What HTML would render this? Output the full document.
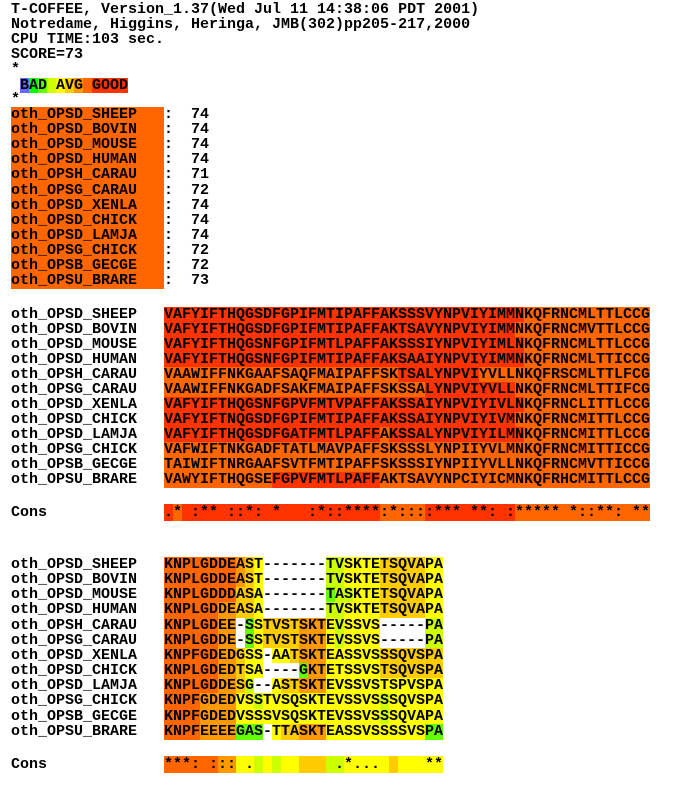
<!DOCTYPE html>
<html><head><meta charset="utf-8">
<style>
body{margin:0;background:#fff;width:673px;height:787px;overflow:hidden;position:relative;font-family:"Liberation Mono",monospace;font-weight:bold;font-size:15px;color:#000}
.ln{position:absolute;left:11px;height:16px;line-height:15px;white-space:pre}
.c{display:inline-block;width:9px;height:100%;text-align:center;vertical-align:top}
</style></head><body>
<div class="ln" style="top:2px">T-COFFEE, Version_1.37(Wed Jul 11 14:38:06 PDT 2001)</div>
<div class="ln" style="top:17px">Notredame, Higgins, Heringa, JMB(302)pp205-217,2000</div>
<div class="ln" style="top:32px">CPU TIME:103 sec.</div>
<div class="ln" style="top:47px">SCORE=73</div>
<div class="ln" style="top:62px">*</div>
<div class="ln" id="legend" style="top:78px;height:15px"></div>
<div class="ln" style="top:92px">*</div>
<div id="root"></div>
<script>
const COL={'0':'#6666ff','1':'#00ff00','2':'#66ff00','3':'#ccff00','4':'#ffff00','5':'#ffcc00','6':'#ff9900','7':'#ff6600','8':'#ff3300','-':'#ffffff',' ':'#ffffff'};
const names=['oth_OPSD_SHEEP','oth_OPSD_BOVIN','oth_OPSD_MOUSE','oth_OPSD_HUMAN','oth_OPSH_CARAU','oth_OPSG_CARAU','oth_OPSD_XENLA','oth_OPSD_CHICK','oth_OPSD_LAMJA','oth_OPSG_CHICK','oth_OPSB_GECGE','oth_OPSU_BRARE'];
const scores=[74,74,74,74,71,72,74,74,74,72,72,73];
const seq1=['VAFYIFTHQGSDFGPIFMTIPAFFAKSSSVYNPVIYIMMNKQFRNCMLTTLCCG','VAFYIFTHQGSDFGPIFMTIPAFFAKTSAVYNPVIYIMMNKQFRNCMVTTLCCG','VAFYIFTHQGSNFGPIFMTLPAFFAKSSSIYNPVIYIMLNKQFRNCMLTTLCCG','VAFYIFTHQGSNFGPIFMTIPAFFAKSAAIYNPVIYIMMNKQFRNCMLTTICCG','VAAWIFFNKGAAFSAQFMAIPAFFSKTSALYNPVIYVLLNKQFRSCMLTTLFCG','VAAWIFFNKGADFSAKFMAIPAFFSKSSALYNPVIYVLLNKQFRNCMLTTIFCG','VAFYIFTHQGSNFGPVFMTVPAFFAKSSAIYNPVIYIVLNKQFRNCLITTLCCG','VAFYIFTNQGSDFGPIFMTIPAFFAKSSAIYNPVIYIVMNKQFRNCMITTLCCG','VAFYIFTHQGSDFGATFMTLPAFFAKSSALYNPVIYILMNKQFRNCMITTLCCG','VAFWIFTNKGADFTATLMAVPAFFSKSSSLYNPIIYVLMNKQFRNCMITTICCG','TAIWIFTNRGAAFSVTFMTIPAFFSKSSSIYNPIIYVLLNKQFRNCMVTTICCG','VAWYIFTHQGSEFGPVFMTLPAFFAKTSAVYNPCIYICMNKQFRHCMITTLCCG'];
const col1=['888888888888888888888888888888888888888877777777777777','888888888888888888888888888888888888888777777777777777','888888888888888888888888888888888888888877777777777777','888888888888888888888888888888888888888877777777777777','777777777777777777777777778888888887777777777777777777','777777777777777777777777777778888888888777777777777777','888888888888888888888888888888888888888877777777777777','888888888888888888888888888888888888888777777777777777','888888888888888888888888788888888888888877777777777777','777777777777777777777777777777777777777777777777777777','777777777777777777777777777777777777777777777777777777','777777777777888888888888777777777777777777777777777777'];
const cons1='.* :** ::*: *   :*::****:*::::*** **: :***** *::**: **';
const cons1col='878888888888888888888888777778888888888777777777777777';
const seq2=['KNPLGDDEAST-------TVSKTETSQVAPA','KNPLGDDEAST-------TVSKTETSQVAPA','KNPLGDDDASA-------TASKTETSQVAPA','KNPLGDDEASA-------TVSKTETSQVAPA','KNPLGDEE-SSTVSTSKTEVSSVS-----PA','KNPLGDDE-SSTVSTSKTEVSSVS-----PA','KNPFGDEDGSS-AATSKTEASSVSSSQVSPA','KNPLGDEDTSA----GKTETSSVSTSQVSPA','KNPLGDDESG--ASTSKTEVSSVSTSPVSPA','KNPFGDEDVSSTVSQSKTEVSSVSSSQVSPA','KNPFGDEDVSSSVSQSKTEVSSVSSSQVAPA','KNPFEEEEGAS-TTASKTEASSVSSSSVSPA'];
const col2=['77777777654-------3344445555544','77777777654-------3344445555544','77777777554-------2334445555544','77777766554-------3344445555544','77777766-245555666434444-----33','77777766-245555666434444-----33','77777766544-4456664444445555555','77777766544----2664444445555555','7777776653--4556664444444444444','7777666644344444444444443444444','7777666644444444444444443444444','77776666222-4556664444444444422'];
const cons2='***: ::: .         .*...     **';
const cons2col='7777776644343445553344444544444';
const legendTxt=' BAD AVG GOOD';
const legendCol=' 0123456788888';
const root=document.getElementById('root');
function cells(parent,txt,codes){for(let i=0;i<txt.length;i++){const s=document.createElement('span');s.className='c';s.textContent=txt[i];const k=codes?codes[i]:' ';if(k&&k!==' ')s.style.background=COL[k];parent.appendChild(s);}}
function line(top,left,name,h){const d=document.createElement('div');d.className='ln';d.style.top=top+'px';d.style.left=left+'px';if(h){d.style.height=h+'px';d.style.lineHeight=h+'px';}


root.appendChild(d);return d;}
const lg=document.getElementById('legend');cells(lg,legendTxt,legendCol);
names.forEach((n,i)=>{const t=Math.round(107+i*15.1);const d=line(t,11,'score-row-'+i);cells(d,n.padEnd(17,' '),'7'.repeat(17));const s=document.createElement('span');s.textContent=':  '+scores[i];d.appendChild(s);});
seq1.forEach((sq,i)=>{const t=307+i*15;const n=line(t,11,'block1-name-'+i);n.textContent=names[i];const d=line(t,164,'block1-seq-'+i);cells(d,sq,col1[i]);});
line(505,11,'block1-cons-label').textContent='Cons';
cells(line(504,164,'block1-cons',17),cons1,cons1col);
seq2.forEach((sq,i)=>{const t=Math.round(557+i*15.15);const n=line(t,11,'block2-name-'+i);n.textContent=names[i];const d=line(t,164,'block2-seq-'+i);cells(d,sq,col2[i]);});
line(757,11,'block2-cons-label').textContent='Cons';
cells(line(756,164,'block2-cons',17),cons2,cons2col);
</script>
</body></html>
